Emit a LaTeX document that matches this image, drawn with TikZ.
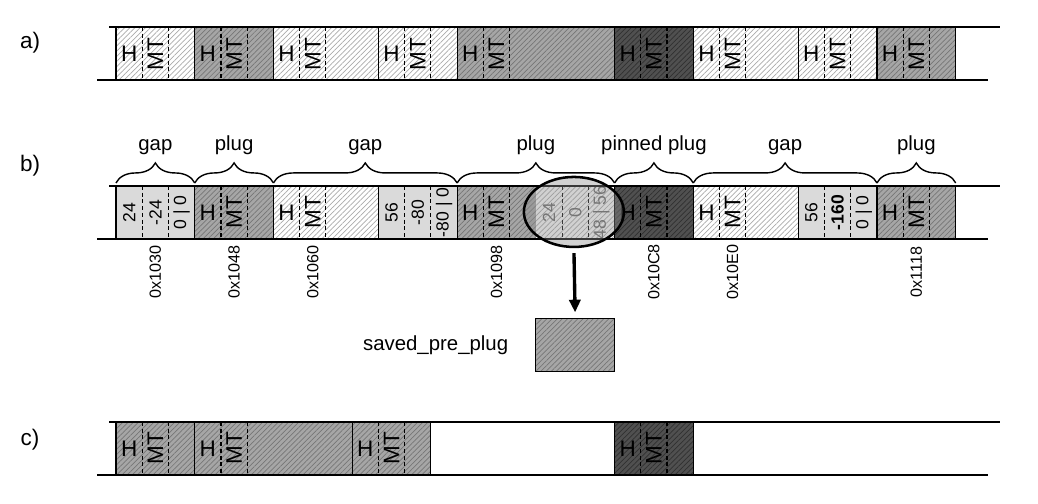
\documentclass[tikz,border=0pt]{standalone}
\usepackage{fontspec}
\setmainfont{Liberation Sans}
\usetikzlibrary{positioning,patterns.meta,shapes.geometric,decorations.pathreplacing,arrows.meta}

\definecolor{hatchlt}{HTML}{ABABAB}
\definecolor{fillmd}{HTML}{A6A6A6}
\definecolor{hatchmd}{HTML}{767676}
\definecolor{filldk}{HTML}{505050}
\definecolor{hatchdk}{HTML}{303030}
\definecolor{fillinfo}{HTML}{DADADA}

\tikzset{
  hatch/.style={pattern={Lines[angle=45,distance=2.6pt,line width=0.5pt]}},
  lightblk/.style={draw,line width=0.8pt,preaction={fill=white},hatch,pattern color=hatchlt},
  medblk/.style={draw,line width=0.8pt,preaction={fill=fillmd},hatch,pattern color=hatchmd},
  darkblk/.style={draw,line width=0.8pt,preaction={fill=filldk},hatch,pattern color=hatchdk},
  infoblk/.style={draw,line width=0.8pt,fill=fillinfo},
  sep/.style={line width=0.8pt,dash pattern=on 2.8pt off 2pt},
  track/.style={line width=1pt},
  brc/.style={decorate,decoration={brace,amplitude=0.5cm},line width=1pt},
  rowlbl/.style={font=\fontsize{16}{19}\selectfont},
  lbl/.style={font=\fontsize{14.5}{17}\selectfont},
  hd/.style={font=\fontsize{16}{19}\selectfont,inner sep=0pt},
  addr/.style={font=\fontsize{11.5}{13}\selectfont,rotate=90,inner sep=0pt},
  num/.style={font=\fontsize{12.5}{14}\selectfont,rotate=90,inner sep=0pt}
}

\begin{document}
\begin{tikzpicture}[x=0.082cm,y=0.025cm]
  \useasboundingbox (-35.37,0) rectangle (281.1,-504);

  % a)
  \node[rowlbl] (la) at (-26.2,-43) {a)};
  \foreach \s/\w/\k in {0/24/lightblk,24/24/medblk,48/32/lightblk,80/24/lightblk,104/48/medblk,
                        152/24/darkblk,176/32/lightblk,208/24/lightblk,232/24/medblk}{
    \draw[\k] (\s,-27) rectangle ++(\w,-53);
    \draw[sep] (\s+8,-27) -- ++(0,-53) (\s+16,-27) -- ++(0,-53);
    \node[hd] (a-h-\s) at (\s+4,-54) {H};
    \node[hd,rotate=90] (a-mt-\s) at (\s+12,-54) {MT};
  }
  \draw[track] (-2.13,-27) -- (269.5,-27);
  \draw[track] (-5.79,-80) -- (265.85,-80);

  % b)
  \node[rowlbl] (lb) at (-26.2,-166) {b)};
  \foreach \s/\w/\k in {24/24/medblk,48/32/lightblk,104/48/medblk,152/24/darkblk,176/32/lightblk,232/24/medblk}{
    \draw[\k] (\s,-186) rectangle ++(\w,-53);
    \draw[sep] (\s+8,-186) -- ++(0,-53) (\s+16,-186) -- ++(0,-53);
    \node[hd] (b-h-\s) at (\s+4,-212.5) {H};
    \node[hd,rotate=90] (b-mt-\s) at (\s+12,-212.5) {MT};
  }
  \foreach \s/\p/\q/\r in {0/24/-24/{0 | 0},80/56/-80/{-80 | 0},208/56/\textbf{-160}/{0 | 0}}{
    \draw[infoblk] (\s,-186) rectangle ++(24,-53);
    \draw[sep] (\s+8,-186) -- ++(0,-53) (\s+16,-186) -- ++(0,-53);
    \node[num] (b-p-\s) at (\s+4,-212.5) {\p};
    \node[num] (b-q-\s) at (\s+12,-212.5) {\q};
    \node[num] (b-r-\s) at (\s+20,-212.5) {\r};
  }
  \fill[white] (128,-186) rectangle (152,-239);
  \fill[hatch,pattern color=hatchlt] (128,-186) rectangle (152,-239);
  \draw[sep] (136,-186) -- ++(0,-53) (144,-186) -- ++(0,-53);
  \node[num,text=black!60] (pp-p) at (132,-212.5) {24};
  \node[num,text=black!60] (pp-q) at (140,-212.5) {0};
  \node[num,text=black!60] (pp-r) at (148,-212.5) {48 | 56};
  \draw[line width=0.8pt] (152,-186) -- (152,-239);
  \draw[track] (-2.13,-186) -- (269.5,-186);
  \draw[track] (-5.79,-239) -- (265.85,-239);

  \foreach \s/\e/\t in {0/24/gap,24/48/plug,48/104/gap,104/152/plug,152/176/pinned plug,176/232/gap,232/256/plug}{
    \draw[brc] (\s,-183) -- (\e,-183);
    \node[lbl,anchor=base] (br-\s) at ({(\s+\e)/2},-151) {\t};
  }
  \foreach \s/\t in {0/0x1030,24/0x1048,48/0x1060,104/0x1098,152/0x10C8,176/0x10E0,232/0x1118}
    \node[addr] (ad-\s) at (\s+12,-272) {\t};

  \node[ellipse,draw,line width=1.8pt,fill=black!45,fill opacity=0.4,
        minimum width=2.5cm,minimum height=1.75cm,inner sep=0pt] (sel) at (139.6,-212) {};
  \node[medblk,minimum width=1.975cm,minimum height=1.325cm,inner sep=0pt] (saved) at (140,-345.5) {};
  \node[lbl,left=0.55cm of saved] (savedlbl) {saved\_pre\_plug};
  \draw[line width=2.4pt,-{Triangle[length=9pt,width=8pt]},shorten <=0.125cm,shorten >=0.15cm]
    (sel.south) -- (saved.north);

  % c)
  \node[rowlbl] (lc) at (-26.2,-440) {c)};
  \foreach \s/\w/\k in {0/24/medblk,24/48/medblk,72/24/medblk,152/24/darkblk}{
    \draw[\k] (\s,-422) rectangle ++(\w,-53);
    \draw[sep] (\s+8,-422) -- ++(0,-53) (\s+16,-422) -- ++(0,-53);
    \node[hd] (c-h-\s) at (\s+4,-448.5) {H};
    \node[hd,rotate=90] (c-mt-\s) at (\s+12,-448.5) {MT};
  }
  \draw[track] (-2.13,-422) -- (269.5,-422);
  \draw[track] (-5.79,-475) -- (265.85,-475);
\end{tikzpicture}
\end{document}
